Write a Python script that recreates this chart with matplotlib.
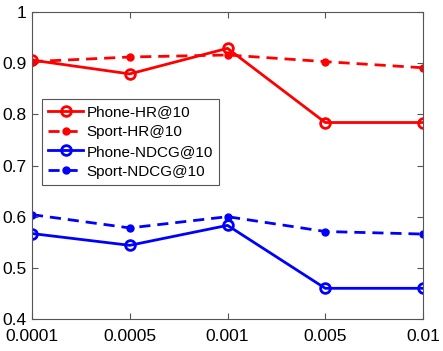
import matplotlib
matplotlib.use("Agg")
import matplotlib.pyplot as plt

plt.rcParams['font.family'] = ['Liberation Sans', 'DejaVu Sans']

rates = ['0.0001', '0.0005', '0.001', '0.005', '0.01']
phone_hr = [0.906, 0.879, 0.929, 0.784, 0.784]
sport_hr = [0.903, 0.912, 0.916, 0.903, 0.891]
phone_ndcg = [0.567, 0.544, 0.583, 0.460, 0.460]
sport_ndcg = [0.604, 0.578, 0.600, 0.571, 0.566]

fig = plt.figure(figsize=(4.43, 3.51), dpi=100)
ax = fig.add_axes([32 / 443, 1 - 319 / 351, 391 / 443, 307 / 351])

x = range(len(rates))
dash = (0, (4, 2.5))
ax.plot(x, phone_hr, '-o', color='red', lw=2, ms=7, mfc='none', mew=2, label='Phone-HR@10')
ax.plot(x, sport_hr, 'o', ls=dash, color='red', lw=2, ms=5, label='Sport-HR@10')
ax.plot(x, phone_ndcg, '-o', color='blue', lw=2, ms=7, mfc='none', mew=2, label='Phone-NDCG@10')
ax.plot(x, sport_ndcg, 'o', ls=dash, color='blue', lw=2, ms=5, label='Sport-NDCG@10')

ax.set_xlim(0, len(rates) - 1)
ax.set_ylim(0.4, 1.0)
ax.set_xticks(list(x))
ax.set_xticklabels(rates)
ax.set_yticks([0.4, 0.5, 0.6, 0.7, 0.8, 0.9, 1.0])
ax.set_yticklabels(['0.4', '0.5', '0.6', '0.7', '0.8', '0.9', '1'])
ax.tick_params(direction='in', top=True, right=True, labelsize=12.5, length=4, color='#555555')
ax.tick_params(axis='x', pad=7)
ax.tick_params(axis='y', pad=4)
for s in ax.spines.values():
    s.set_color('#555555')
    s.set_linewidth(0.8)

leg = ax.legend(loc='upper left', bbox_to_anchor=(10 / 391, 1 - 87 / 307), fontsize=11,
                fancybox=False, edgecolor='#555555', framealpha=1, borderaxespad=0,
                handlelength=2.3, handletextpad=0.2, labelspacing=0.38, borderpad=0.4)
leg.get_frame().set_linewidth(0.8)

fig.savefig('out.png', dpi=100)
